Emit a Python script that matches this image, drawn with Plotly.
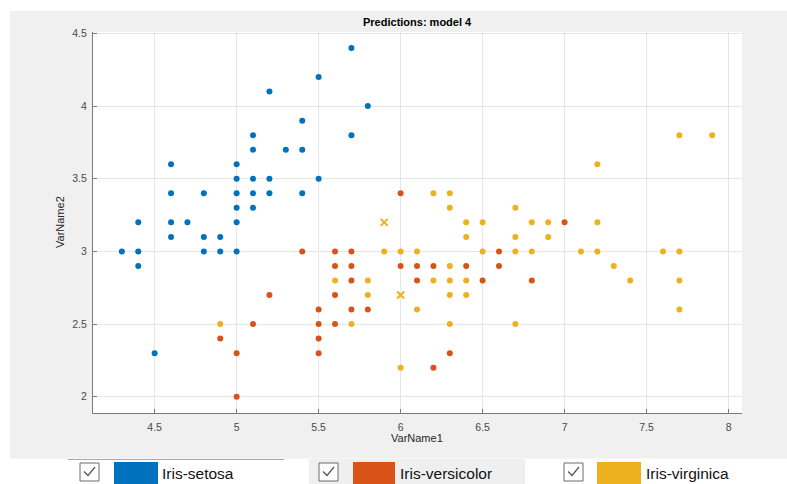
import plotly.graph_objects as go

# ---------------- data ----------------
class_names = ["Iris-setosa", "Iris-versicolor", "Iris-virginica"]

setosa_x = [5.7, 5.5, 5.2, 5.8, 5.4, 5.1, 5.7, 5.1, 5.3, 5.4, 4.6, 5.0, 5.0, 5.1, 5.2, 5.5,
            4.6, 4.8, 5.0, 5.1, 5.2, 5.4, 5.0, 5.1, 4.4, 4.6, 4.7, 5.0, 4.6, 4.8, 4.9,
            4.3, 4.4, 4.8, 4.9, 5.0, 4.4, 4.5]
setosa_y = [4.4, 4.2, 4.1, 4.0, 3.9, 3.8, 3.8, 3.7, 3.7, 3.7, 3.6, 3.6, 3.5, 3.5, 3.5, 3.5,
            3.4, 3.4, 3.4, 3.4, 3.4, 3.4, 3.3, 3.3, 3.2, 3.2, 3.2, 3.2, 3.1, 3.1, 3.1,
            3.0, 3.0, 3.0, 3.0, 3.0, 2.9, 2.3]

versicolor_x = [6.0, 7.0, 5.4, 5.6, 5.7, 6.6, 5.6, 5.7, 6.0, 6.1, 6.2, 6.4, 6.6, 5.7, 6.1,
                6.5, 6.8, 5.2, 5.6, 5.5, 5.7, 5.8, 5.1, 5.5, 5.6, 4.9, 5.5, 5.0, 5.5, 6.3,
                6.2, 5.0]
versicolor_y = [3.4, 3.2, 3.0, 3.0, 3.0, 3.0, 2.9, 2.9, 2.9, 2.9, 2.9, 2.9, 2.9, 2.8, 2.8,
                2.8, 2.8, 2.7, 2.7, 2.6, 2.6, 2.6, 2.5, 2.5, 2.5, 2.4, 2.4, 2.3, 2.3, 2.3,
                2.2, 2.0]

virginica_x = [7.7, 7.9, 7.2, 6.2, 6.3, 6.3, 6.7, 6.4, 6.5, 6.8, 6.9, 7.2, 6.4, 6.7, 6.9,
               5.9, 6.0, 6.1, 6.5, 6.7, 6.8, 7.1, 7.2, 7.6, 7.7, 6.3, 7.3, 5.6, 5.8, 6.2,
               6.3, 6.4, 7.4, 7.7, 5.8, 6.3, 6.4, 6.1, 7.7, 4.9, 5.7, 6.3, 6.7, 6.0]
virginica_y = [3.8, 3.8, 3.6, 3.4, 3.4, 3.3, 3.3, 3.2, 3.2, 3.2, 3.2, 3.2, 3.1, 3.1, 3.1,
               3.0, 3.0, 3.0, 3.0, 3.0, 3.0, 3.0, 3.0, 3.0, 3.0, 2.9, 2.9, 2.8, 2.8, 2.8,
               2.8, 2.8, 2.8, 2.8, 2.7, 2.7, 2.7, 2.6, 2.6, 2.5, 2.5, 2.5, 2.5, 2.2]

# incorrect predictions (drawn as x, predicted virginica)
wrong_x = [5.9, 6.0]
wrong_y = [3.2, 2.7]

x_ticks = [4.5, 5, 5.5, 6, 6.5, 7, 7.5, 8]
y_ticks = [2, 2.5, 3, 3.5, 4, 4.5]

colors = ["#0072BD", "#D95319", "#EDB120"]

# ---------------- layout geometry ----------------
W, H = 787, 484
L, R, T, B = 93, 45, 32, 71
PW = W - L - R
PH = H - T - B


def px(x):
    return (x - L) / PW


def py(y):
    return (H - B - y) / PH


FONT = "Liberation Sans, Arial, Helvetica, sans-serif"

fig = go.Figure()
series = [(setosa_x, setosa_y), (versicolor_x, versicolor_y), (virginica_x, virginica_y)]
for (xs, ys), name, c in zip(series, class_names, colors):
    fig.add_trace(go.Scatter(x=xs, y=ys, mode="markers", name=name,
                             marker=dict(size=6, color=c), showlegend=False))
fig.add_trace(go.Scatter(x=wrong_x, y=wrong_y, mode="markers", name="Incorrect",
                         marker=dict(size=7, symbol="x-thin", color=colors[2],
                                     line=dict(color=colors[2], width=2)),
                         showlegend=False))

shapes = []
# gray figure panel
shapes.append(dict(type="rect", xref="paper", yref="paper", x0=px(10), x1=px(800),
                   y0=py(458.5), y1=py(11), fillcolor="#f0f0f0", line_width=0, layer="below"))
# white axes area
shapes.append(dict(type="rect", xref="paper", yref="paper", x0=0, x1=1, y0=0, y1=1,
                   fillcolor="#ffffff", line_width=0, layer="below"))
# legend strip decorations
shapes.append(dict(type="line", xref="paper", yref="paper", x0=px(68), x1=px(284),
                   y0=py(459.5), y1=py(459.5), line=dict(color="#a8a8a8", width=1)))
shapes.append(dict(type="rect", xref="paper", yref="paper", x0=px(309), x1=px(525),
                   y0=py(500), y1=py(459), fillcolor="#efefef", line_width=0, layer="below"))

checkbox_x = [80, 319, 564]
swatch_x = [(114, 158), (353, 395), (597, 641)]
label_x = [160, 398, 644]
annotations = []
for cx, (s0, s1), lx, name, c in zip(checkbox_x, swatch_x, label_x, class_names, colors):
    shapes.append(dict(type="rect", xref="paper", yref="paper", x0=px(cx), x1=px(cx + 19),
                       y0=py(481), y1=py(463), fillcolor="#ffffff",
                       line=dict(color="#6a6a6a", width=1)))
    shapes.append(dict(type="path", xref="paper", yref="paper",
                       path=f"M {px(cx+4)},{py(471.5)} L {px(cx+8)},{py(475.5)} L {px(cx+15)},{py(467)}",
                       line=dict(color="#555555", width=1.2)))
    shapes.append(dict(type="rect", xref="paper", yref="paper", x0=px(s0), x1=px(s1),
                       y0=py(500), y1=py(462), fillcolor=c, line_width=0))
    annotations.append(dict(text=name, xref="paper", yref="paper", x=px(lx), y=py(473),
                            xanchor="left", yanchor="middle", showarrow=False,
                            font=dict(family="Liberation Sans Narrow, Arial Narrow, " + FONT,
                                      size=15.5, color="#111111")))

# title and axis labels
annotations.append(dict(text="<b>Predictions: model 4</b>", xref="paper", yref="paper",
                        x=px(417), y=py(22), xanchor="center", yanchor="middle",
                        showarrow=False, font=dict(family=FONT, size=11, color="#000000")))
annotations.append(dict(text="VarName1", xref="paper", yref="paper", x=px(417), y=py(438),
                        xanchor="center", yanchor="middle", showarrow=False,
                        font=dict(family=FONT, size=11, color="#262626")))
annotations.append(dict(text="VarName2", xref="paper", yref="paper", x=px(60), y=py(222),
                        xanchor="center", yanchor="middle", textangle=-90, showarrow=False,
                        font=dict(family=FONT, size=11, color="#262626")))

axis_common = dict(showgrid=True, gridcolor="#e6e6e6", gridwidth=1, zeroline=False,
                   showline=True, linecolor="#7a7a7a", linewidth=1, mirror=False,
                   ticks="inside", ticklen=4, tickcolor="#7a7a7a",
                   tickfont=dict(family=FONT, size=10.5, color="#4a4a4a"))

fig.update_layout(
    width=W, height=H,
    margin=dict(l=L, r=R, t=T, b=B, pad=0),
    paper_bgcolor="#ffffff", plot_bgcolor="#ffffff",
    showlegend=False,
    xaxis=dict(range=[4.124, 8.082], tickvals=x_ticks, ticktext=[f"{v:g}" for v in x_ticks],
               ticklabelstandoff=4, **axis_common),
    yaxis=dict(range=[1.888, 4.51], tickvals=y_ticks, ticktext=[f"{v:g}" for v in y_ticks],
               ticklabelstandoff=3, **axis_common),
    shapes=shapes,
    annotations=annotations,
)

fig.write_html("out.html", config={"displayModeBar": False},
               post_script="document.body.style.margin='0';document.body.style.overflow='hidden';")
